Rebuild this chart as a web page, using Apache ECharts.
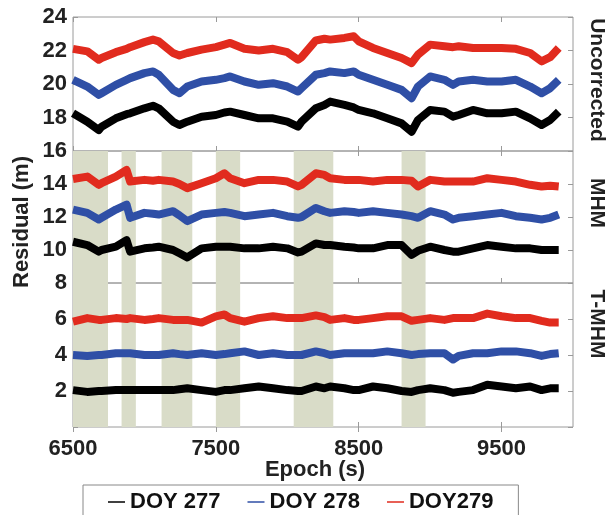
<!DOCTYPE html>
<html>
<head>
<meta charset="utf-8">
<script src="https://cdn.jsdelivr.net/npm/echarts@6/dist/echarts.min.js"></script>
<style>
  html, body { margin: 0; padding: 0; background: #fff; }
  #chart { width: 607px; height: 515px; }
</style>
</head>
<body>
<div id="chart"></div>
<script>
const epochs = [6500, 6600, 6680, 6700, 6800, 6875, 6900, 7000, 7060, 7100, 7200, 7245, 7300, 7400, 7500, 7560, 7600, 7700, 7800, 7900, 8000, 8075, 8100, 8200, 8260, 8300, 8400, 8465, 8500, 8600, 8700, 8800, 8870, 8915, 9000, 9100, 9160, 9200, 9300, 9400, 9500, 9600, 9700, 9780, 9840, 9900];

// Uncorrected
const unc277 = [18.25, 17.75, 17.25, 17.45, 17.95, 18.2, 18.25, 18.55, 18.7, 18.55, 17.75, 17.55, 17.75, 18.05, 18.15, 18.3, 18.35, 18.15, 17.95, 17.95, 17.75, 17.45, 17.75, 18.55, 18.75, 18.95, 18.75, 18.6, 18.45, 18.25, 17.95, 17.65, 17.15, 17.85, 18.45, 18.35, 18.05, 18.15, 18.45, 18.25, 18.25, 18.35, 17.95, 17.55, 17.85, 18.35];
const unc278 = [20.25, 19.85, 19.35, 19.45, 19.95, 20.25, 20.35, 20.65, 20.75, 20.55, 19.65, 19.45, 19.85, 20.15, 20.25, 20.35, 20.45, 20.15, 19.95, 20.05, 19.85, 19.55, 19.75, 20.55, 20.65, 20.75, 20.65, 20.75, 20.55, 20.25, 19.95, 19.65, 19.15, 19.85, 20.45, 20.25, 19.95, 20.15, 20.25, 20.15, 20.15, 20.25, 19.85, 19.45, 19.75, 20.25];
const unc279 = [22.1, 21.95, 21.45, 21.55, 21.9, 22.1, 22.2, 22.5, 22.65, 22.55, 21.85, 21.7, 21.85, 22.05, 22.2, 22.35, 22.45, 22.1, 22.0, 22.1, 21.9, 21.45, 21.6, 22.6, 22.7, 22.65, 22.75, 22.85, 22.55, 22.15, 21.85, 21.55, 21.25, 21.75, 22.35, 22.25, 22.2, 22.25, 22.15, 22.15, 22.15, 22.1, 21.85, 21.35, 21.6, 22.15];

// MHM
const mhm277 = [10.5, 10.3, 9.9, 10.0, 10.2, 10.6, 9.9, 10.1, 10.15, 10.2, 10.0, 9.8, 9.55, 10.1, 10.2, 10.2, 10.2, 10.1, 10.1, 10.2, 10.1, 9.85, 9.9, 10.4, 10.3, 10.3, 10.2, 10.15, 10.1, 10.1, 10.3, 10.3, 9.7, 9.95, 10.2, 10.0, 9.9, 9.9, 10.1, 10.3, 10.2, 10.1, 10.1, 10.0, 10.0, 10.0];
const mhm278 = [12.45, 12.25, 11.85, 11.95, 12.45, 12.75, 11.95, 12.25, 12.2, 12.15, 12.35, 12.1, 11.75, 12.15, 12.25, 12.3, 12.25, 12.05, 12.15, 12.25, 12.05, 11.95, 12.0, 12.55, 12.35, 12.25, 12.35, 12.3, 12.25, 12.35, 12.25, 12.15, 12.05, 11.95, 12.35, 12.15, 11.85, 11.95, 12.05, 12.15, 12.25, 12.05, 11.95, 11.85, 11.95, 12.15];
const mhm279 = [14.3, 14.45, 13.95, 14.05, 14.45, 14.85, 14.15, 14.25, 14.2, 14.25, 14.15, 14.0, 13.75, 14.05, 14.35, 14.65, 14.35, 14.05, 14.25, 14.25, 14.15, 13.85, 13.95, 14.65, 14.55, 14.35, 14.25, 14.25, 14.25, 14.15, 14.25, 14.25, 14.2, 13.85, 14.25, 14.15, 14.15, 14.15, 14.15, 14.35, 14.25, 14.15, 13.95, 13.85, 13.9, 13.85];

// T-MHM
const tmhm277 = [2.05, 1.95, 2.0, 2.0, 2.05, 2.05, 2.05, 2.05, 2.05, 2.05, 2.05, 2.1, 2.15, 2.05, 1.95, 2.05, 2.05, 2.15, 2.25, 2.15, 2.05, 2.0, 2.0, 2.25, 2.15, 2.25, 2.15, 2.05, 2.05, 2.25, 2.15, 2.0, 1.95, 2.05, 2.15, 2.05, 1.9, 1.95, 2.05, 2.35, 2.25, 2.15, 2.25, 2.05, 2.15, 2.15];
const tmhm278 = [4.0, 3.95, 4.0, 4.0, 4.1, 4.1, 4.1, 4.0, 4.0, 4.0, 4.1, 4.05, 4.0, 4.1, 4.0, 4.05, 4.1, 4.2, 4.0, 4.1, 4.0, 4.0, 4.0, 4.2, 4.1, 4.0, 4.1, 4.1, 4.1, 4.1, 4.2, 4.1, 4.0, 4.05, 4.1, 4.1, 3.75, 3.95, 4.1, 4.1, 4.2, 4.2, 4.1, 3.95, 4.05, 4.1];
const tmhm279 = [5.85, 6.05, 5.95, 5.95, 6.05, 6.0, 6.05, 5.95, 6.0, 6.05, 5.95, 5.95, 5.95, 5.8, 6.15, 6.25, 6.05, 5.85, 6.05, 6.15, 6.05, 6.05, 6.05, 6.2, 6.1, 5.95, 6.05, 5.95, 5.95, 6.05, 6.15, 6.15, 5.9, 5.95, 6.05, 5.95, 6.05, 6.05, 6.05, 6.3, 6.15, 6.05, 6.05, 5.9, 5.8, 5.8];

// shaded epochs
const shadeStart = [6500, 6840, 7120, 7500, 8045, 8800];
const shadeEnd = [6745, 6940, 7335, 7670, 8322, 8968];

const xTicks = [6500, 7500, 8500, 9500];
const panelNames = ["Uncorrected", "MHM", "T-MHM"];
const dayNames = ["DOY 277", "DOY 278", "DOY279"];

const panels = [
  { min: 16, max: 24, series: [unc277, unc278, unc279] },
  { min: 8, max: 16, series: [mhm277, mhm278, mhm279] },
  { min: 0, max: 8, series: [tmhm277, tmhm278, tmhm279] },
];

const colors = ["#000000", "#2f4fa6", "#e12b1e"];
const font = "'Liberation Sans', Arial, sans-serif";
const frameColor = "#9a9a9a";

const grids = [
  { left: 73, right: 34, top: 17, height: 134 },
  { left: 73, right: 34, top: 151, height: 132 },
  { left: 73, right: 34, top: 283, height: 144 },
].map((g) => ({ ...g, show: true, borderColor: frameColor, borderWidth: 1 }));

const xAxes = [];
const yAxes = [];
const series = [];

panels.forEach((p, i) => {
  const tick = {
    show: true,
    inside: true,
    length: 5,
    customValues: xTicks,
    lineStyle: { color: frameColor },
  };
  xAxes.push({
    gridIndex: i,
    type: "value",
    position: "bottom",
    min: 6500,
    max: 10000,
    axisLine: { show: false },
    splitLine: { show: false },
    axisTick: tick,
    axisLabel: {
      show: i === 2,
      customValues: xTicks,
      formatter: (v) => String(v),
      fontSize: 22,
      fontWeight: "bold",
      fontFamily: font,
      color: "#222",
      margin: 11,
    },
  });
  xAxes.push({
    gridIndex: i,
    type: "value",
    position: "top",
    min: 6500,
    max: 10000,
    axisLine: { show: false },
    splitLine: { show: false },
    axisTick: tick,
    axisLabel: { show: false },
  });

  const yTick = {
    show: true,
    inside: true,
    length: 5,
    lineStyle: { color: frameColor },
  };
  yAxes.push({
    gridIndex: i,
    type: "value",
    position: "left",
    min: p.min,
    max: p.max,
    interval: 2,
    axisLine: { show: false },
    splitLine: { show: false },
    axisTick: yTick,
    axisLabel: {
      fontSize: 22,
      fontWeight: "bold",
      fontFamily: font,
      color: "#222",
      margin: 6,
      formatter: (v) => (i === 1 && v === 16) || (i === 2 && (v === 0 || v === 8)) ? "" : String(v),
    },
  });
  yAxes.push({
    gridIndex: i,
    type: "value",
    position: "right",
    min: p.min,
    max: p.max,
    interval: 2,
    axisLine: { show: false },
    splitLine: { show: false },
    axisTick: yTick,
    axisLabel: { show: false },
  });

  if (i > 0) {
    series.push({
      type: "line",
      xAxisIndex: i * 2,
      yAxisIndex: i * 2,
      data: [],
      silent: true,
      z: 1,
      markArea: {
        silent: true,
        itemStyle: { color: "#d9dcc8" },
        data: shadeStart.map((s, k) => [{ xAxis: s }, { xAxis: shadeEnd[k] }]),
      },
    });
  }

  p.series.forEach((vals, k) => {
    series.push({
      name: dayNames[k],
      type: "line",
      xAxisIndex: i * 2,
      yAxisIndex: i * 2,
      showSymbol: false,
      z: 3,
      lineStyle: { color: colors[k], width: 8, join: "round" },
      itemStyle: { color: colors[k] },
      data: epochs.map((e, j) => [e, vals[j]]),
    });
  });
});

const textStyle = (extra) => ({
  fontSize: 22,
  fontWeight: "bold",
  fontFamily: font,
  fill: "#222",
  align: "center",
  verticalAlign: "middle",
  ...extra,
});

const chart = echarts.init(document.getElementById("chart"), null, { renderer: "canvas" });

chart.setOption({
  animation: false,
  backgroundColor: "#fff",
  grid: grids,
  xAxis: xAxes,
  yAxis: yAxes,
  series: series,
  legend: {
    data: dayNames,
    left: 83,
    top: 485,
    orient: "horizontal",
    icon: "rect",
    itemWidth: 17,
    itemHeight: 1.5,
    itemGap: 27,
    padding: [6, 25, 14, 25],
    borderColor: "#888",
    borderWidth: 1,
    textStyle: { fontSize: 22, fontWeight: "bold", fontFamily: font, color: "#111" },
  },
  graphic: [
    { type: "text", x: 22, y: 222, rotation: Math.PI / 2, style: textStyle({ text: "Residual (m)" }) },
    { type: "text", x: 315, y: 470, style: textStyle({ text: "Epoch (s)" }) },
    { type: "text", x: 597, y: 80, rotation: -Math.PI / 2, style: textStyle({ text: panelNames[0], fontSize: 21 }) },
    { type: "text", x: 597, y: 203, rotation: -Math.PI / 2, style: textStyle({ text: panelNames[1], fontSize: 21 }) },
    { type: "text", x: 597, y: 324, rotation: -Math.PI / 2, style: textStyle({ text: panelNames[2], fontSize: 21 }) },
  ],
});
</script>
</body>
</html>
